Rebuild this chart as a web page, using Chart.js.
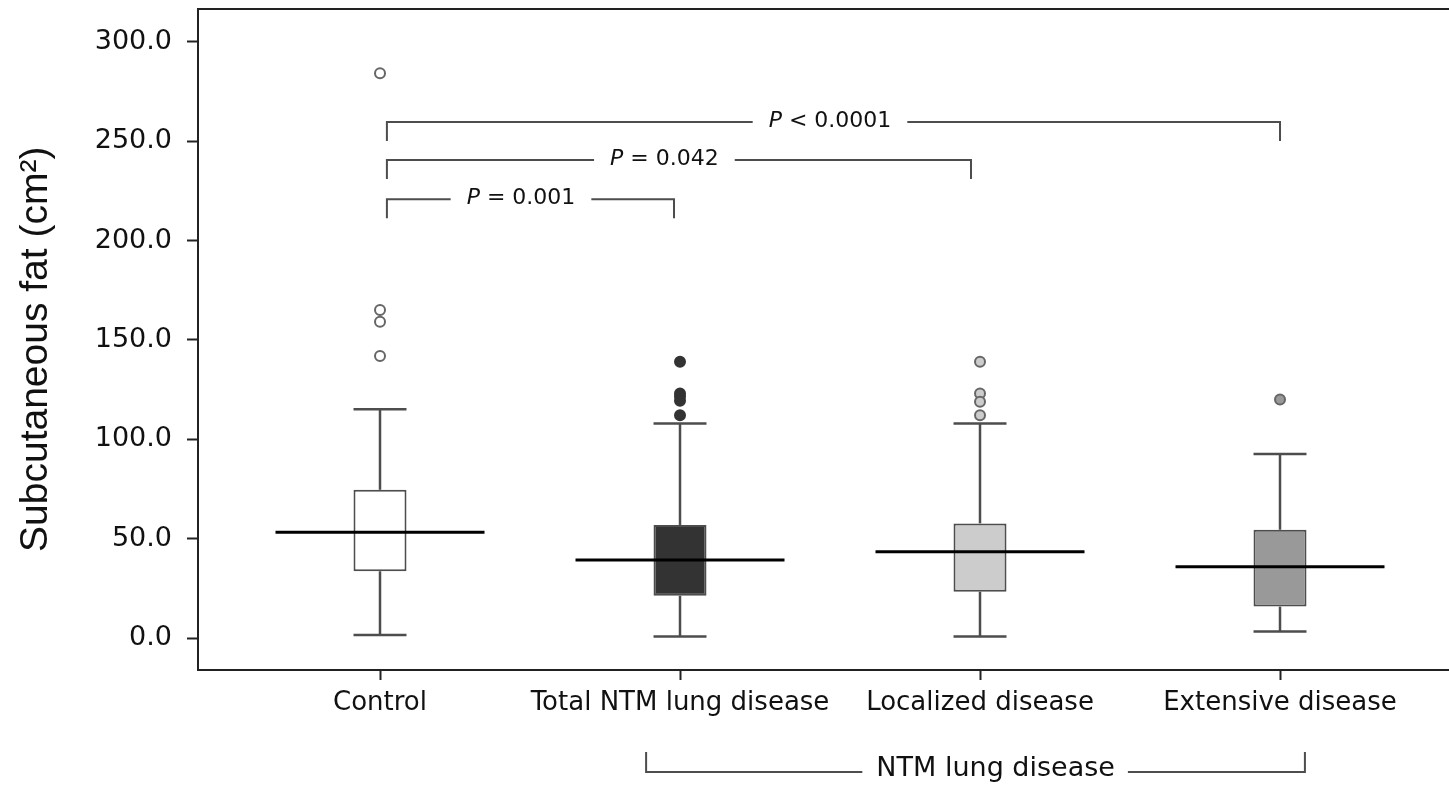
<!DOCTYPE html>
<html>
<head>
<meta charset="utf-8">
<script src="https://cdn.jsdelivr.net/npm/chart.js@4.4.1/dist/chart.umd.min.js"></script>
<style>
  html, body { margin: 0; padding: 0; background: #ffffff; }
  #wrap { width: 1449px; height: 786px; }
</style>
</head>
<body>
<div id="wrap"><canvas id="c" width="1449" height="786"></canvas></div>
<script>
// ---- data ----
const categories = ['Control', 'Total NTM lung disease', 'Localized disease', 'Extensive disease'];
const whiskerLow  = [1.5, 0.7, 0.7, 3.3];
const q1          = [33.6, 21.3, 23.3, 15.8];
const median      = [53.2, 39.3, 43.4, 35.9];
const q3          = [74.6, 56.9, 57.7, 54.5];
const whiskerHigh = [115.1, 108.0, 108.0, 92.6];
const outliersControl  = [284.3, 165.1, 159.2, 141.9];
const outliersTotal    = [139.1, 123.1, 121.5, 119.4, 112.1];
const outliersLocal    = [139.1, 123.1, 118.9, 112.1];
const outliersExtended = [120.1];
const yTickValues = [0, 50, 100, 150, 200, 250, 300];
const yTitle = 'Subcutaneous fat (cm\u00B2)\u2002';
const pLabels = ['< 0.0001', '= 0.042', '= 0.001'];
const groupLabel = 'NTM lung disease';

// ---- styles ----
const boxFills = ['#ffffff', '#333333', '#cccccc', '#999999'];
const outlierFills = ['#ffffff', '#333333', '#cccccc', '#999999'];
const outlierStrokes = ['#666666', '#333333', '#666666', '#666666'];
const lineGray = '#4d4d4d';
const axisColor = '#222222';

const outlierGroups = [outliersControl, outliersTotal, outliersLocal, outliersExtended];
const outlierPoints = [];
outlierGroups.forEach((arr, i) => arr.forEach(v => outlierPoints.push({x: i, y: v})));

// annotation geometry (in data units of the x index / y value)
const pBrackets = [
  {from: 0.023, to: 3.0,  level: 259.7, text: pLabels[0], textAt: 1.50},
  {from: 0.023, to: 1.97, level: 240.6, text: pLabels[1], textAt: 0.948},
  {from: 0.023, to: 0.98, level: 220.9, text: pLabels[2], textAt: 0.47}
];
const groupBracket = {from: 0.887, to: 3.083, textAt: 2.052};

const annotationPlugin = {
  id: 'annotations',
  afterDraw(chart) {
    const {ctx, chartArea, scales: {x, y}} = chart;
    ctx.save();
    // top frame line
    ctx.strokeStyle = axisColor;
    ctx.lineWidth = 2;
    ctx.beginPath();
    ctx.moveTo(chartArea.left - 1, chartArea.top);
    ctx.lineTo(chartArea.right, chartArea.top);
    ctx.stroke();

    const drawPText = (txt, cx, cy) => {
      const fItal = 'oblique 22px "DejaVu Sans"';
      const fNorm = '22px "DejaVu Sans"';
      ctx.font = fItal;
      const wP = ctx.measureText('P').width;
      ctx.font = fNorm;
      const wR = ctx.measureText(' ' + txt).width;
      const total = wP + wR;
      const sx = cx - total / 2;
      ctx.fillStyle = '#111111';
      ctx.textBaseline = 'middle';
      ctx.textAlign = 'left';
      ctx.font = fItal;
      ctx.fillText('P', sx, cy);
      ctx.font = fNorm;
      ctx.fillText(' ' + txt, sx + wP, cy);
      return total;
    };

    // p-value brackets
    ctx.strokeStyle = lineGray;
    ctx.lineWidth = 2;
    pBrackets.forEach(b => {
      const x0 = x.getPixelForValue(b.from);
      const x1 = x.getPixelForValue(b.to);
      const yy = y.getPixelForValue(b.level);
      const cx = x.getPixelForValue(b.textAt);
      const w = drawPText(b.text, cx, yy - 1);
      const gap = 16;
      ctx.beginPath();
      ctx.moveTo(x0, yy + 19);
      ctx.lineTo(x0, yy);
      ctx.lineTo(cx - w / 2 - gap, yy);
      ctx.moveTo(cx + w / 2 + gap, yy);
      ctx.lineTo(x1, yy);
      ctx.lineTo(x1, yy + 19);
      ctx.stroke();
    });

    // group bracket under the x axis
    {
      const x0 = x.getPixelForValue(groupBracket.from);
      const x1 = x.getPixelForValue(groupBracket.to);
      const cx = x.getPixelForValue(groupBracket.textAt);
      const yTop = chartArea.bottom + 82;
      const yy = chartArea.bottom + 102;
      ctx.font = '27px "DejaVu Sans"';
      const w = ctx.measureText(groupLabel).width;
      ctx.fillStyle = '#111111';
      ctx.textAlign = 'center';
      ctx.textBaseline = 'middle';
      ctx.fillText(groupLabel, cx, yy - 3);
      ctx.strokeStyle = lineGray;
      ctx.lineWidth = 2;
      ctx.beginPath();
      ctx.moveTo(x0, yTop);
      ctx.lineTo(x0, yy);
      ctx.lineTo(cx - w / 2 - 14, yy);
      ctx.moveTo(cx + w / 2 + 13, yy);
      ctx.lineTo(x1, yy);
      ctx.lineTo(x1, yTop);
      ctx.stroke();
    }
    ctx.restore();
  }
};

const idx = categories.map((_, i) => i);

new Chart(document.getElementById('c'), {
  type: 'bar',
  data: {
    datasets: [
      {
        type: 'scatter',
        label: 'median',
        order: 0,
        data: idx.map(i => ({x: i, y: median[i]})),
        pointStyle: 'line',
        pointRadius: 104.5,
        pointHoverRadius: 104.5,
        borderColor: '#000000',
        pointBorderWidth: 3,
        borderWidth: 3
      },
      {
        type: 'scatter',
        label: 'outliers',
        order: 1,
        data: outlierPoints,
        pointStyle: 'circle',
        pointRadius: 5,
        pointBorderWidth: 2,
        backgroundColor: ctx => outlierFills[ctx.raw ? ctx.raw.x : 0],
        borderColor: ctx => outlierStrokes[ctx.raw ? ctx.raw.x : 0]
      },
      {
        type: 'scatter',
        label: 'caps',
        order: 2,
        data: idx.map(i => ({x: i, y: whiskerLow[i]})).concat(idx.map(i => ({x: i, y: whiskerHigh[i]}))),
        pointStyle: 'line',
        pointRadius: 26.5,
        borderColor: lineGray,
        pointBorderWidth: 2.5,
        borderWidth: 2.5
      },
      {
        label: 'box',
        order: 3,
        data: idx.map(i => ({x: i, y: [q1[i], q3[i]]})),
        backgroundColor: boxFills,
        borderColor: lineGray,
        borderWidth: 2,
        borderSkipped: false,
        barThickness: 53,
        grouped: false,
        inflateAmount: 0
      },
      {
        label: 'lower whisker',
        order: 4,
        data: idx.map(i => ({x: i, y: [whiskerLow[i], q1[i]]})),
        backgroundColor: lineGray,
        borderWidth: 0,
        barThickness: 2.5,
        grouped: false,
        inflateAmount: 0
      },
      {
        label: 'upper whisker',
        order: 4,
        data: idx.map(i => ({x: i, y: [q3[i], whiskerHigh[i]]})),
        backgroundColor: lineGray,
        borderWidth: 0,
        barThickness: 2.5,
        grouped: false,
        inflateAmount: 0
      }
    ]
  },
  options: {
    responsive: false,
    animation: false,
    events: [],
    layout: { autoPadding: false, padding: { top: 9, left: 0, right: 0, bottom: 0 } },
    plugins: {
      legend: { display: false },
      tooltip: { enabled: false },
      title: { display: false }
    },
    scales: {
      x: {
        type: 'linear',
        position: 'bottom',
        min: -0.6067,
        max: 3.5633,
        offset: false,
        afterFit: s => { s.height = 116; s.paddingLeft = 0; s.paddingRight = 0; },
        afterBuildTicks: s => { s.ticks = idx.map(i => ({value: i})); },
        grid: { offset: false, drawOnChartArea: false, drawTicks: true, tickLength: 10, tickWidth: 2, tickColor: axisColor },
        border: { display: true, color: axisColor, width: 2 },
        ticks: {
          autoSkip: false,
          maxRotation: 0,
          padding: 8,
          color: '#111111',
          font: { family: '"DejaVu Sans"', size: 26 },
          callback: v => categories[Math.round(v)]
        }
      },
      y: {
        type: 'linear',
        position: 'left',
        min: -16.1,
        max: 316.6,
        afterFit: s => { s.width = 198; s.paddingTop = 0; s.paddingBottom = 0; },
        afterBuildTicks: s => { s.ticks = yTickValues.map(v => ({value: v})); },
        grid: { drawOnChartArea: false, drawTicks: true, tickLength: 11, tickWidth: 2, tickColor: axisColor },
        border: { display: true, color: axisColor, width: 2 },
        ticks: {
          padding: 15,
          color: '#111111',
          font: { family: '"DejaVu Sans"', size: 27 },
          callback: v => Number(v).toFixed(1)
        },
        title: {
          display: true,
          text: yTitle,
          color: '#111111',
          font: { family: '"Liberation Sans"', size: 39 },
          padding: { top: 13, bottom: 0 }
        }
      }
    }
  },
  plugins: [annotationPlugin]
});
</script>
</body>
</html>
